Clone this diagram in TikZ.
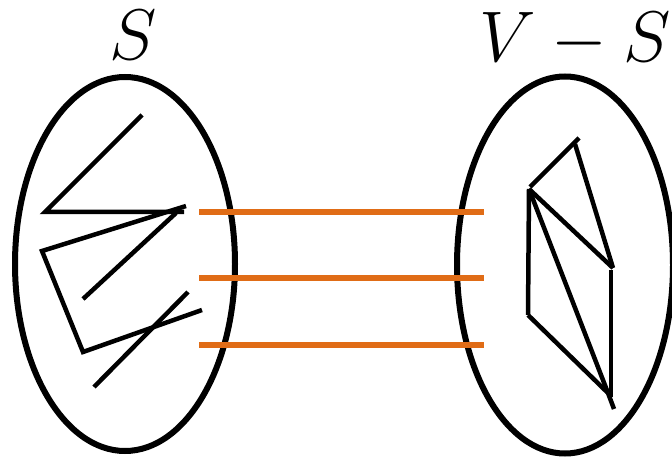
\documentclass[tikz,border=0pt]{standalone}
\usetikzlibrary{shapes.geometric}
\definecolor{edgeorange}{RGB}{224,108,22}
\tikzset{
  setoval/.style={draw, ellipse, line width=6pt, inner sep=0pt},
  graphedge/.style={draw, line width=4.5pt},
  cutedge/.style={draw=edgeorange, line width=6.5pt},
  setlabel/.style={anchor=base, inner sep=0pt, font=\Huge}
}
\newcommand{\biglabel}[1]{\scalebox{2.88}{$#1$}}
\begin{document}
\begin{tikzpicture}[x=1pt,y=-1pt]
\useasboundingbox (0,0) rectangle (672,457);
% sets
\node[setoval, minimum width=220pt, minimum height=374pt] (S) at (125,264) {};
\node[setoval, minimum width=216pt, minimum height=377pt] (VS) at (565,265) {};
\node[setlabel] (lS) at (133,60) {\biglabel{S}};
\node[setlabel] (lVS) at (575,62) {\biglabel{V-S}};
% left graph vertices
\coordinate (a1) at (142,115);
\coordinate (a2) at (45,212);
\coordinate (a3) at (184,212);
\coordinate (b1) at (186,206);
\coordinate (b2) at (42,251);
\coordinate (b3) at (83,352);
\coordinate (b4) at (202,310);
\coordinate (c1) at (176,213);
\coordinate (c2) at (83,299);
\coordinate (d1) at (188,292);
\coordinate (d2) at (94,387);
\path[graphedge] (a1) -- (a2) -- (a3);
\path[graphedge] (b1) -- (b2) -- (b3) -- (b4);
\path[graphedge] (c1) -- (c2);
\path[graphedge] (d1) -- (d2);
% right graph vertices
\coordinate (r1) at (579,138);
\coordinate (r2) at (530,187);
\coordinate (r3) at (575,144);
\coordinate (r4) at (613,268);
\coordinate (r5) at (529,189);
\coordinate (r6) at (528,315);
\coordinate (r7) at (608,393);
\coordinate (r8) at (611,270);
\coordinate (r9) at (611,397);
\coordinate (r10) at (614,409);
\path[graphedge] (r1) -- (r2);
\path[graphedge] (r3) -- (r4);
\path[graphedge] (r5) -- (r6);
\path[graphedge] (r5) -- (r4);
\path[graphedge] (r5) -- (r7);
\path[graphedge] (r6) -- (r7);
\path[graphedge] (r8) -- (r9);
\path[graphedge] (r7) -- (r10);
% cut edges
\coordinate (o1l) at (199,212);
\coordinate (o1r) at (484,212);
\coordinate (o2l) at (199,278);
\coordinate (o2r) at (484,278);
\coordinate (o3l) at (199,345);
\coordinate (o3r) at (484,345);
\path[cutedge] (o1l) -- (o1r);
\path[cutedge] (o2l) -- (o2r);
\path[cutedge] (o3l) -- (o3r);
\end{tikzpicture}
\end{document}
